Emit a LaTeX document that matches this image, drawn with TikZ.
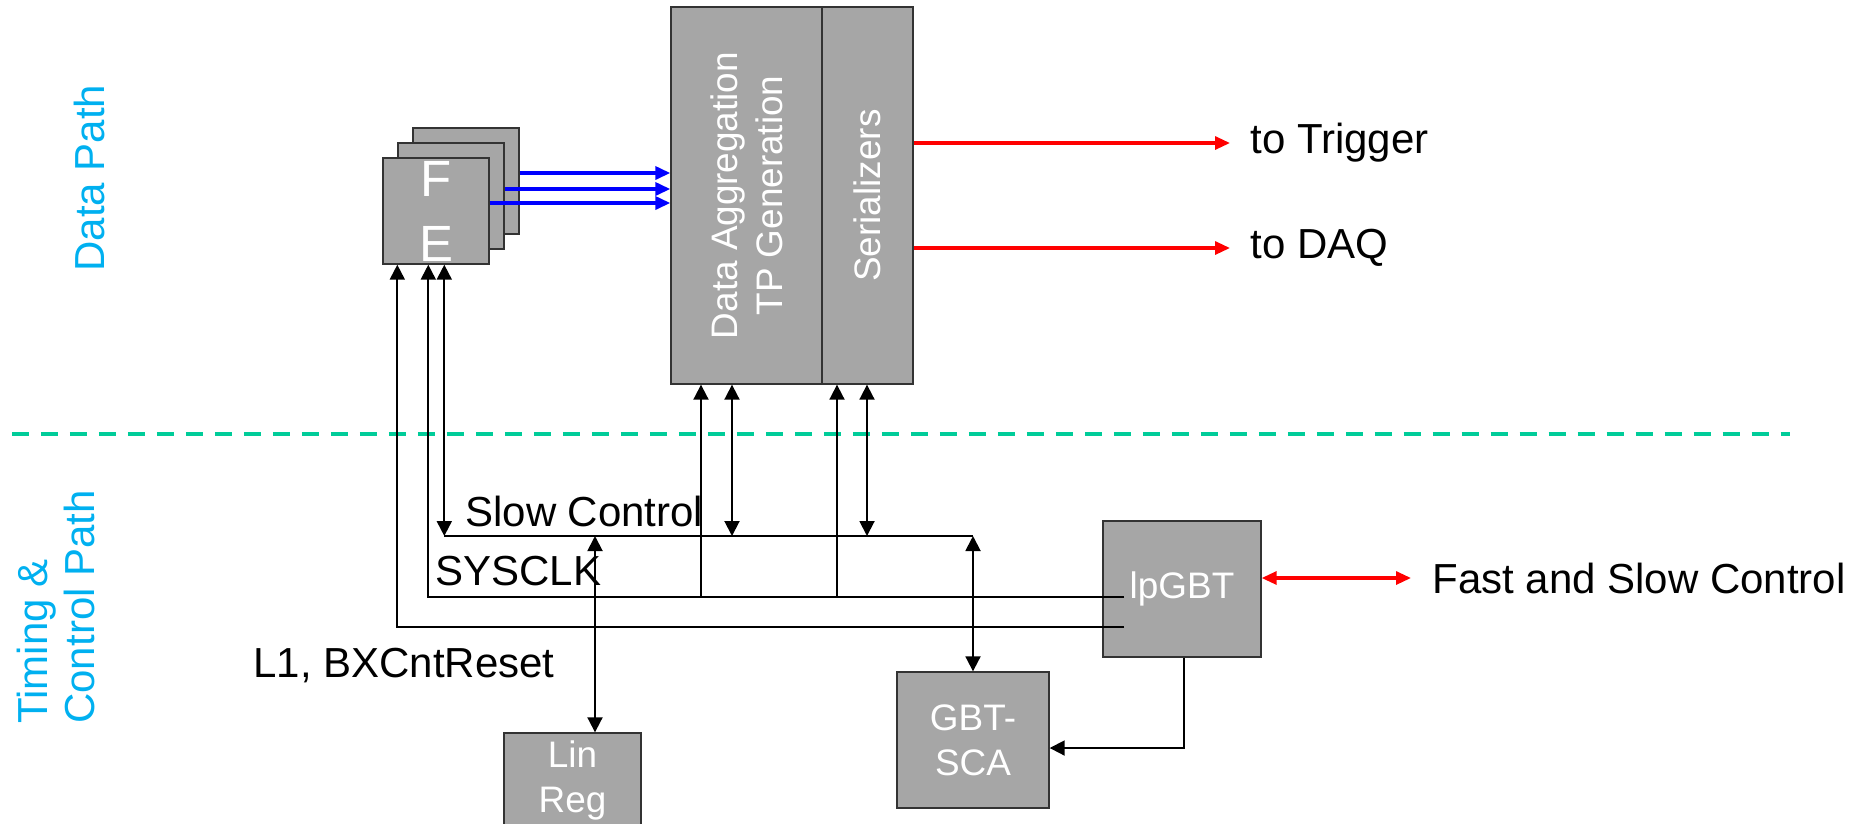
\documentclass[tikz,border=0pt]{standalone}
\usepackage{fontspec}
\setmainfont{Liberation Sans}
\usetikzlibrary{arrows.meta}
\usetikzlibrary{calc}
\definecolor{boxgray}{HTML}{A6A6A6}
\definecolor{pathblue}{HTML}{00B0F0}
\definecolor{splitgreen}{HTML}{00CC99}
\tikzset{block/.style={draw=black!80, fill=boxgray, line width=0.8pt, text=white, align=center, inner sep=0pt, font=\fontsize{21}{25.6}\selectfont}}
\tikzset{tag/.style={inner sep=0pt, font=\fontsize{23.9}{26.7}\selectfont}}
\tikzset{sig/.style={line width=1.1pt, >={Triangle[length=0.3cm,width=0.3cm]}}}
\tikzset{feed/.style={blue, line width=2pt, -{Triangle[length=0.3cm,width=0.26cm]}}}
\tikzset{link/.style={red, line width=1.8pt, >={Triangle[length=0.3cm,width=0.26cm]}}}
\tikzset{split/.style={splitgreen, line width=0.08cm, dash pattern=on 0.34cm off 0.24cm}}

\begin{document}
\begin{tikzpicture}[x=0.02cm,y=-0.02cm]
  \useasboundingbox (0,0) rectangle (1856,823);
  \foreach \i/\d/\txt in {3/30/{}, 2/15/{}, 1/0/{F\\E}} {
    \node[block, minimum size=2.12cm, font=\fontsize{29}{37}\selectfont] (fe\i) at (436+\d, 211-\d) {\txt};
  }
  \node[block, rotate=90, minimum width=7.54cm, minimum height=3.02cm] (agg) at (746.5,195.5) {Data Aggregation\\TP Generation};
  \node[block, rotate=90, minimum width=7.54cm, minimum height=1.82cm] (ser) at (867.5,195.5) {Serializers};
  \node[block, minimum width=3.16cm, minimum height=2.72cm] (lpgbt) at (1182,589) {lpGBT};
  \node[block, minimum width=3.04cm, minimum height=2.72cm] (sca) at (973,740) {GBT-\\SCA};
  \node[block, minimum width=2.74cm, minimum height=1.88cm] (linreg) at (572.5,780) {Lin\\Reg};

  \node[tag, text=pathblue, rotate=90, anchor=west] (datapath) at (89,272) {Data Path};
  \node[tag, text=pathblue, rotate=90, anchor=west, align=left] (tcpath) at (56,724) {Timing \&\\Control Path};
  \node[tag, anchor=west, inner xsep=0.4cm] (trig) at (1230,143) {to Trigger};
  \node[tag, anchor=west, inner xsep=0.4cm] (daq) at (1230,248) {to DAQ};
  \node[tag, anchor=west, inner xsep=0.42cm] (fsc) at (1411,578) {Fast and Slow Control};
  \node[tag, anchor=base west] (sclab) at (465,526) {Slow Control};
  \node[tag, anchor=base west] (clklab) at (435,585) {SYSCLK};
  \node[tag, anchor=base west] (l1lab) at (253,677) {L1, BXCntReset};

  \coordinate (splitl) at (12,434);
  \coordinate (splitr) at (1790,434);
  \draw[split] (splitl) -- (splitr);

  \foreach \i/\dy in {3/-8, 2/-7, 1/-8} {
    \draw[feed] ($(fe\i.east)+(0,\dy)$) coordinate (src) -- (src -| agg.north);
  }
  \draw[link,->] (ser.south |- trig) -- (trig.west);
  \draw[link,->] (ser.south |- daq) -- (daq.west);
  \draw[link,<->] (lpgbt.east |- fsc) -- (fsc.west);

  \coordinate (l1in) at (1124,627);
  \coordinate (clkin) at (1124,597);
  \coordinate (scbus) at (973,536);
  \draw[sig,->] (l1in) -| ([xshift=0.3cm]fe1.south west);
  \draw[sig,->] (clkin) -| ([xshift=0.92cm]fe1.south west);
  \draw[sig,<->] ([xshift=1.24cm]fe1.south west) coordinate (fesc) -- (fesc |- scbus);
  \draw[sig] (fesc |- scbus) -- (scbus);
  \foreach \n/\s in {agg/-45.5, ser/-30.5} {
    \draw[sig,<-] ($(\n.west)+(\s,0)$) coordinate (up) -- (up |- clkin);
  }
  \foreach \n/\s in {agg/-14.5, ser/-0.5} {
    \draw[sig,<->] ($(\n.west)+(\s,0)$) coordinate (up) -- (up |- scbus);
  }
  \draw[sig,<->] ($(linreg.north)+(22.5,0)$) coordinate (lr) -- (lr |- scbus);
  \draw[sig,<->] (sca.north) -- (scbus);
  \draw[sig,->] ($(lpgbt.south)+(2,0)$) |- ($(sca.east)+(0,8)$);
\end{tikzpicture}
\end{document}
